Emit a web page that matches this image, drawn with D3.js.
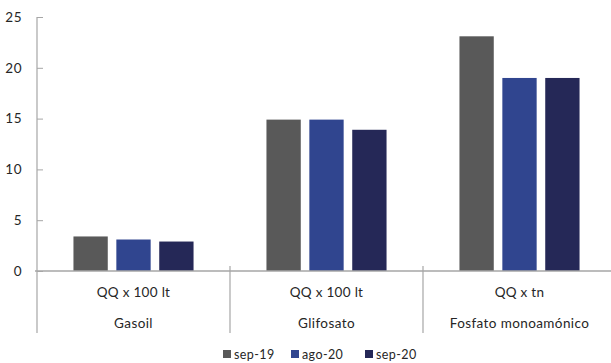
<!DOCTYPE html>
<html>
<head>
<meta charset="utf-8">
<script src="https://cdn.jsdelivr.net/npm/d3@7"></script>
<style>
  html, body { margin: 0; padding: 0; background: #fff; }
  svg { display: block; }
  text { font-family: Lato, "Open Sans", sans-serif; fill: #262626; }
</style>
</head>
<body>
<svg id="chart" width="611" height="363"></svg>
<script>
// Products, their unit labels and the three series
const products = ["Gasoil", "Glifosato", "Fosfato monoamónico"];
const units = ["QQ x 100 lt", "QQ x 100 lt", "QQ x tn"];
const seriesNames = ["sep-19", "ago-20", "sep-20"];
const sep19 = [3.4, 14.9, 23.1];
const ago20 = [3.1, 14.9, 19.0];
const sep20 = [2.9, 13.9, 19.0];
const yTicks = [0, 5, 10, 15, 20, 25];
const colors = ["#595959", "#30458f", "#252857"];

const values = [sep19, ago20, sep20];
const svg = d3.select("#chart");
const plotLeft = 37, plotRight = 616, plotTop = 17, plotBottom = 271;

const x0 = d3.scaleBand().domain(products).range([plotLeft, plotRight]).paddingInner(0).paddingOuter(0);
const x1 = d3.scaleBand().domain(seriesNames).range([0, x0.bandwidth()]).paddingInner(0.2).paddingOuter(0.85);
const y = d3.scaleLinear().domain([0, 25]).range([plotBottom, plotTop]);

const axisColor = "#a6a6a6";

// Bars
products.forEach((p, i) => {
  svg.append("g")
    .selectAll("rect")
    .data(seriesNames.map((s, j) => ({ s, v: values[j][i], c: colors[j] })))
    .join("rect")
    .attr("x", d => x0(p) + x1(d.s))
    .attr("width", x1.bandwidth())
    .attr("y", d => y(d.v))
    .attr("height", d => y(0) - y(d.v))
    .attr("fill", d => d.c);
});

// Y axis
const yAxis = svg.append("g")
  .attr("transform", `translate(${plotLeft},0)`)
  .call(d3.axisLeft(y).tickValues(yTicks).tickSize(-6).tickPadding(15).tickFormat(d3.format("d")));
yAxis.select(".domain").remove();
yAxis.selectAll(".tick line").attr("stroke", axisColor);
yAxis.selectAll(".tick text").attr("font-size", 13.5).attr("font-family", "Lato, sans-serif")
  .attr("fill", "#262626").attr("letter-spacing", 0.5);
svg.append("line").attr("x1", plotLeft).attr("x2", plotLeft).attr("y1", plotTop).attr("y2", 333)
  .attr("stroke", axisColor).attr("stroke-width", 1.2);

// X axis baseline
svg.append("line").attr("x1", plotLeft - 2).attr("x2", 611).attr("y1", plotBottom).attr("y2", plotBottom)
  .attr("stroke", axisColor).attr("stroke-width", 1.5);

// Group separators
products.slice(1).forEach(p => {
  svg.append("line").attr("x1", x0(p)).attr("x2", x0(p)).attr("y1", 266).attr("y2", 333)
    .attr("stroke", axisColor).attr("stroke-width", 1.2);
});

// Category labels: unit row and product row
products.forEach((p, i) => {
  const cx = x0(p) + x0.bandwidth() / 2;
  svg.append("text").attr("x", cx).attr("y", 297).attr("text-anchor", "middle")
    .attr("font-size", 13.5).attr("letter-spacing", 0.3).text(units[i]);
  svg.append("text").attr("x", cx).attr("y", 328).attr("text-anchor", "middle")
    .attr("font-size", 13.5).attr("letter-spacing", 0.4).text(p);
});

// Legend
const legendX = [223, 291, 365];
seriesNames.forEach((s, j) => {
  const g = svg.append("g").attr("transform", `translate(${legendX[j]},350)`);
  g.append("rect").attr("width", 8).attr("height", 8).attr("fill", colors[j]);
  g.append("text").attr("x", 11).attr("y", 9).attr("font-size", 12.5).attr("letter-spacing", 0.4).text(s);
});
</script>
</body>
</html>
